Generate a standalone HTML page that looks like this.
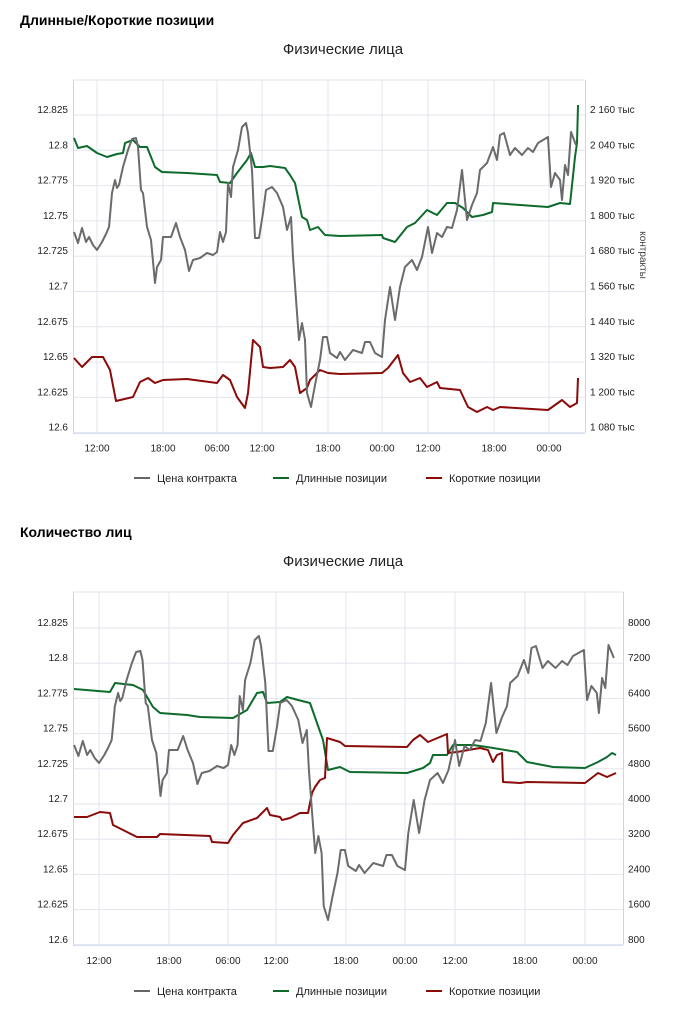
<!DOCTYPE html>
<html><head><meta charset="utf-8"><style>
body{margin:0;background:#fff;width:682px;height:1024px;overflow:hidden;font-family:"Liberation Sans","DejaVu Sans",sans-serif}
svg{position:absolute;left:0;top:0}
</style></head><body>
<svg id="s" width="682" height="1024" xmlns="http://www.w3.org/2000/svg" font-family="Liberation Sans, DejaVu Sans, sans-serif">
<text x="20" y="25" font-size="14" font-weight="bold" fill="#000">Длинные/Короткие позиции</text>
<text x="343" y="54" font-size="15" fill="#222" text-anchor="middle">Физические лица</text>
<text x="20" y="537" font-size="14" font-weight="bold" fill="#000">Количество лиц</text>
<text x="343" y="566" font-size="15" fill="#222" text-anchor="middle">Физические лица</text>
<text transform="translate(640,255) rotate(90)" font-size="10" fill="#444" text-anchor="middle">контракты</text>
<g id="g"></g>
</svg>
<script>
var g=document.getElementById('g'),h='';
function ln(x1,y1,x2,y2,c){h+='<line x1="'+x1+'" y1="'+y1+'" x2="'+x2+'" y2="'+y2+'" stroke="'+c+'" stroke-width="1"/>';}
function tx(x,y,t,a,s){h+='<text x="'+x+'" y="'+y+'" font-size="'+(s||10)+'" fill="#222" text-anchor="'+(a||'start')+'">'+t+'</text>';}
var L=['12.825','12.8','12.775','12.75','12.725','12.7','12.675','12.65','12.625','12.6'];
var tl=['12:00','18:00','06:00','12:00','18:00','00:00','12:00','18:00','00:00'];
function chart(top,g0,step,left,right,vx,rl,rx){
 ln(left,top,right,top,'#e3e6ee');
 for(var i=0;i<10;i++){var y=g0+i*step;ln(left,y,right,y,'#e3e6ee');tx(68,y-2,L[i],'end');tx(rx,y-2,rl[i]);}
 for(var j=0;j<vx.length;j++){ln(vx[j],top,vx[j],g0+9*step,'#e3e6ee');tx(vx[j],g0+9*step+19,tl[j],'middle');}
 ln(left+0.5,top,left+0.5,g0+9*step,'#ccd6eb');ln(right+0.5,top,right+0.5,g0+9*step,'#ccd6eb');
 ln(left,g0+9*step+0.5,right,g0+9*step+0.5,'#ccd6eb');
}
chart(80,115,35.3,73,585,[97,163,217,262,328,382,428,494,549],['2 160 тыс','2 040 тыс','1 920 тыс','1 800 тыс','1 680 тыс','1 560 тыс','1 440 тыс','1 320 тыс','1 200 тыс','1 080 тыс'],590);
chart(592,628,35.2,73,623,[99,169,228,276,346,405,455,525,585],['8000','7200','6400','5600','4800','4000','3200','2400','1600','800'],628);
function leg(y){
 var it=[[134,'#666','Цена контракта'],[273,'#0d6b2c','Длинные позиции'],[426,'#8b0a0a','Короткие позиции']];
 it.forEach(function(a){h+='<line x1="'+a[0]+'" y1="'+y+'" x2="'+(a[0]+16)+'" y2="'+y+'" stroke="'+a[1]+'" stroke-width="2"/>';tx(a[0]+23,y+4,a[2],'start',11);});
}
leg(478);leg(991);
function P(a){var s='';for(var i=0;i<a.length;i+=2)s+=a[i]+','+a[i+1]+' ';return s;}
function pl(a,c){h+='<polyline points="'+P(a)+'" fill="none" stroke="'+c+'" stroke-width="2" stroke-linejoin="round"/>';}
var gray=[74,232,78,243,82,228,86,242,89,237,93,245,97,250,102,242,106,234,109,227,112,193,115,180,117,188,119,185,123,167,128,150,132,139,136,138,138,147,141,190,143,193,147,227,151,240,155,283,157,267,161,260,163,237,167,237,171,237,176,223,180,237,185,250,189,271,193,260,200,258,207,253,213,255,217,252,220,232,223,242,226,232,228,183,231,197,233,167,238,150,242,127,246,123,248,133,252,170,255,238,259,238,263,213,266,190,272,187,277,193,283,207,287,230,291,217,293,257,297,313,299,340,302,323,305,340,307,393,311,407,315,385,320,360,323,337,327,337,330,353,337,358,340,352,345,360,353,350,362,353,365,342,370,342,375,353,382,357,385,320,390,287,395,320,400,287,405,267,412,260,417,270,422,257,428,227,432,253,437,233,442,237,447,227,452,228,457,210,462,170,467,220,472,205,477,193,480,170,487,163,493,147,497,160,500,135,504,133,510,155,515,148,522,155,528,148,533,152,538,143,548,137,551,187,555,173,560,180,562,200,565,165,568,175,571,132,576,145];
var greenT=[74,138,78,148,87,146,97,153,107,157,117,154,123,153,125,143,133,140,140,147,147,147,155,167,162,172,187,173,217,175,220,182,230,183,237,173,247,160,251,153,255,167,263,167,270,166,285,168,290,175,295,183,302,217,307,220,310,230,318,227,325,235,340,236,382,235,383,238,395,242,407,227,415,223,427,210,437,215,447,203,455,203,463,208,472,217,483,215,492,212,493,203,548,207,560,203,570,204,575,157,577,143,578,105];
var redT=[74,358,82,367,92,357,103,357,110,370,116,401,133,397,140,382,148,378,155,383,163,380,187,379,217,383,223,375,230,380,237,397,245,408,248,393,253,340,260,347,263,367,270,368,283,367,290,360,295,367,300,393,307,388,310,380,320,370,328,373,340,374,382,373,388,368,398,355,403,373,410,382,420,378,427,387,437,382,440,388,460,390,468,407,477,412,487,407,493,410,500,407,548,410,562,400,570,407,577,403,578,378];
var greenB=[74,689,110,692,115,683,133,685,143,690,153,707,160,713,187,715,200,717,233,718,247,710,257,693,263,692,267,703,280,702,287,697,298,700,310,703,317,723,323,740,328,770,340,767,350,772,407,773,423,768,430,763,433,755,447,755,453,745,473,745,487,747,517,752,527,762,553,767,585,768,598,762,607,757,612,753,616,755];
var redB=[74,817,87,817,100,812,110,813,113,825,127,832,137,837,157,837,160,834,210,836,212,842,228,843,233,835,243,823,257,818,267,808,270,815,280,817,282,820,290,818,300,813,308,813,312,793,315,787,320,780,325,778,327,738,340,742,345,746,407,747,413,740,420,735,428,742,447,734,448,753,457,752,480,748,488,750,493,762,497,755,502,753,503,782,520,783,527,782,585,783,598,773,607,777,616,773];
var TX=[73,97,163,217,262,328,382,428,494,549,578],BX=[73,99,169,228,276,346,405,455,525,585,616];
function mx(x){for(var i=0;i<TX.length-1;i++){if(x<=TX[i+1]||i==TX.length-2){return BX[i]+(x-TX[i])*(BX[i+1]-BX[i])/(TX[i+1]-TX[i]);}}}
var grayB=[];for(var i=0;i<gray.length;i+=2){grayB.push(mx(gray[i]).toFixed(1),(gray[i+1]+513).toFixed(1));}
pl(greenT,'#0d6b2c');pl(redT,'#8b0a0a');pl(gray,'#6b6b6b');
pl(greenB,'#0d6b2c');pl(redB,'#8b0a0a');pl(grayB,'#6b6b6b');
g.innerHTML=h;
</script>
</body></html>
